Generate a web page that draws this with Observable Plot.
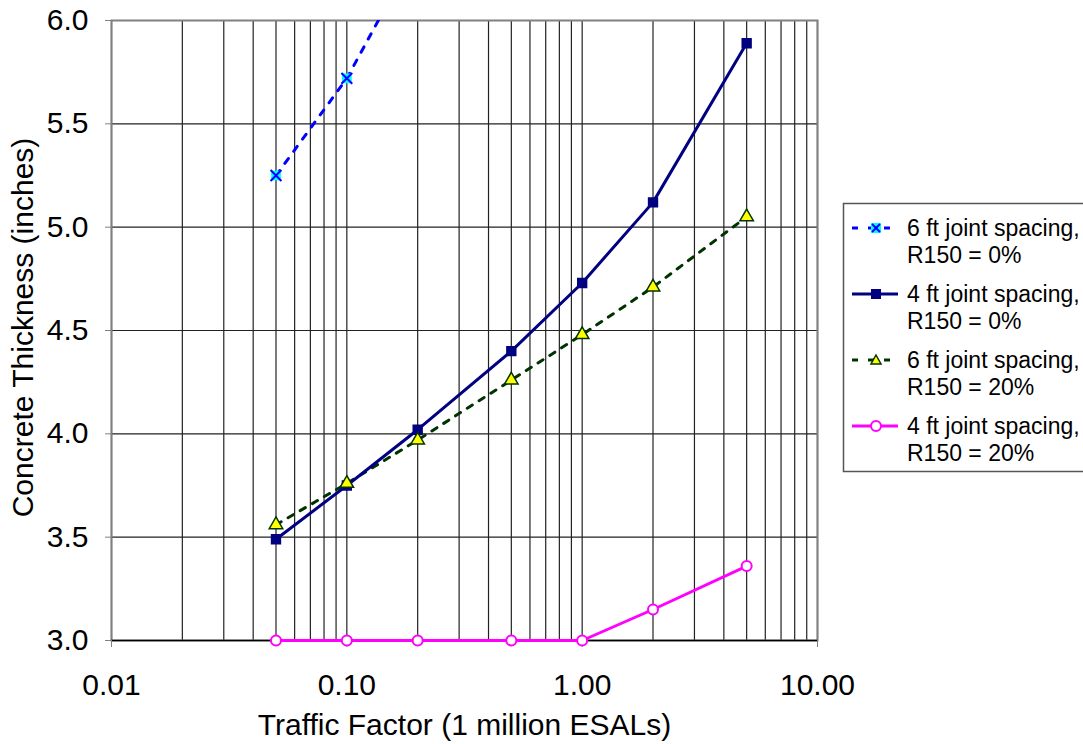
<!DOCTYPE html>
<html><head><meta charset="utf-8">
<script src="https://cdn.jsdelivr.net/npm/d3@7"></script>
<script src="https://cdn.jsdelivr.net/npm/@observablehq/plot@0.6"></script>
<style>body{margin:0;background:#fff;font-family:"Liberation Sans",Arial,sans-serif;overflow:hidden}</style>
</head><body><div id="chart"></div>
<script>
const traffic = [0.05, 0.1, 0.2, 0.5, 1, 2, 5];
const s6ft0 = [5.25, 5.72, 6.35];
const s4ft0 = [3.49, 3.75, 4.02, 4.40, 4.73, 5.12, 5.89];
const s6ft20 = [3.56, 3.76, 3.97, 4.26, 4.48, 4.71, 5.05];
const s4ft20 = [3.0, 3.0, 3.0, 3.0, 3.0, 3.15, 3.36];
const seriesNames = ["6 ft joint spacing,|R150 = 0%", "4 ft joint spacing,|R150 = 0%", "6 ft joint spacing,|R150 = 20%", "4 ft joint spacing,|R150 = 20%"];
const xTicks = [0.01, 0.1, 1, 10];
const yTicks = [3.0, 3.5, 4.0, 4.5, 5.0, 5.5, 6.0];
const xLabel = "Traffic Factor (1 million ESALs)";
const yLabel = "Concrete Thickness (inches)";

const xGrid = [];
for (const d of [0.01, 0.1, 1]) for (let k = 1; k <= 9; k++) xGrid.push(d * k);
xGrid.push(10);

const mk = (vals) => vals.map((v, i) => ({x: traffic[i], y: v}));
const d1 = mk(s6ft0), d2 = mk(s4ft0), d3s = mk(s6ft20), d4 = mk(s4ft20);

const c1 = "#0000ff", c2 = "#000080", c3 = "#003300", c4 = "#ff00ff";

const plot = Plot.plot({
  width: 1083, height: 744,
  marginLeft: 111, marginRight: 266, marginTop: 20, marginBottom: 104,
  style: {fontFamily: '"Liberation Sans", Arial, sans-serif', background: "#fff"},
  x: {type: "log", domain: [0.01, 10]},
  y: {domain: [3, 6]},
  marks: [
    Plot.ruleX(xGrid, {stroke: "#222", strokeWidth: 1.2}),
    Plot.ruleY(yTicks, {stroke: "#222", strokeWidth: 1.2}),
    Plot.frame({stroke: "#808080", strokeWidth: 2}),
    Plot.ruleY([3], {stroke: "#000", strokeWidth: 1.5}),
    Plot.axisX({ticks: xTicks, tickFormat: d3.format(".2f"), tickSize: 7, tickPadding: 26, fontSize: 30, label: null, stroke: "#808080"}),
    Plot.axisY({ticks: yTicks, tickFormat: d3.format(".1f"), tickSize: 6, tickPadding: 17, fontSize: 30, label: null, stroke: "#808080"}),
    Plot.text([xLabel], {frameAnchor: "bottom", dy: 85, lineAnchor: "middle", textAnchor: "middle", fontSize: 30, fill: "#000"}),
    Plot.text([yLabel], {frameAnchor: "left", dx: -88, dy: -3, rotate: -90, lineAnchor: "middle", textAnchor: "middle", fontSize: 30, fill: "#000"}),
    Plot.line(d1, {x: "x", y: "y", stroke: c1, strokeWidth: 3, strokeDasharray: "6,9", clip: true}),
    Plot.line(d3s, {x: "x", y: "y", stroke: c3, strokeWidth: 3, strokeDasharray: "6,8"}),
    Plot.line(d2, {x: "x", y: "y", stroke: c2, strokeWidth: 3}),
    Plot.line(d4, {x: "x", y: "y", stroke: c4, strokeWidth: 3}),
    Plot.dot(d1, {x: "x", y: "y", symbol: "square", r: 5.5, fill: "#00ffff", clip: true}),
    Plot.dot(d1, {x: "x", y: "y", symbol: "times", r: 5, stroke: c1, strokeWidth: 2, clip: true}),
    Plot.dot(d2, {x: "x", y: "y", symbol: "square", r: 5, fill: c2, stroke: c2}),
    Plot.dot(d3s, {x: "x", y: "y", symbol: "triangle", r: 5, fill: "#ffff00", stroke: c3, strokeWidth: 1.5}),
    Plot.dot(d4, {x: "x", y: "y", symbol: "circle", r: 5, fill: "#fff", stroke: c4, strokeWidth: 2})
  ]
});
document.getElementById("chart").appendChild(plot);

// Legend
const svg = d3.select(plot);
const lg = svg.append("g").attr("font-family", '"Liberation Sans", Arial, sans-serif').attr("font-size", 23).attr("text-anchor", "start");
lg.append("rect").attr("x", 843.5).attr("y", 203.5).attr("width", 300).attr("height", 268).attr("fill", "#fff").attr("stroke", "#555").attr("stroke-width", 1.5);
const styles = [
  {stroke: c1, dash: "6,7", marker: "x"},
  {stroke: c2, dash: null, marker: "square"},
  {stroke: c3, dash: "6,7", marker: "triangle"},
  {stroke: c4, dash: null, marker: "circle"}
];
seriesNames.forEach((name, i) => {
  const cy = 228 + i * 66;
  const g = lg.append("g");
  const st = styles[i];
  const ln = g.append("line").attr("x1", 852).attr("x2", 898).attr("y1", cy).attr("y2", cy).attr("stroke", st.stroke).attr("stroke-width", 3);
  if (st.dash) ln.attr("stroke-dasharray", "6,10");
  const mx = 876;
  if (st.marker === "x") {
    g.append("rect").attr("x", mx - 5).attr("y", cy - 5).attr("width", 10).attr("height", 10).attr("fill", "#00ffff");
    g.append("path").attr("d", `M${mx-4},${cy-4}L${mx+4},${cy+4}M${mx-4},${cy+4}L${mx+4},${cy-4}`).attr("stroke", c1).attr("stroke-width", 2);
  } else if (st.marker === "square") {
    g.append("rect").attr("x", mx - 5).attr("y", cy - 5).attr("width", 10).attr("height", 10).attr("fill", c2);
  } else if (st.marker === "triangle") {
    g.append("path").attr("d", `M${mx},${cy-5}L${mx+5},${cy+4}L${mx-5},${cy+4}Z`).attr("fill", "#ffff00").attr("stroke", c3).attr("stroke-width", 1.5);
  } else {
    g.append("circle").attr("cx", mx).attr("cy", cy).attr("r", 5).attr("fill", "#fff").attr("stroke", c4).attr("stroke-width", 2);
  }
  const [l1, l2] = name.split("|");
  g.append("text").attr("x", 907).attr("y", cy + 8).text(l1);
  g.append("text").attr("x", 907).attr("y", cy + 35).text(l2);
});
</script></body></html>
